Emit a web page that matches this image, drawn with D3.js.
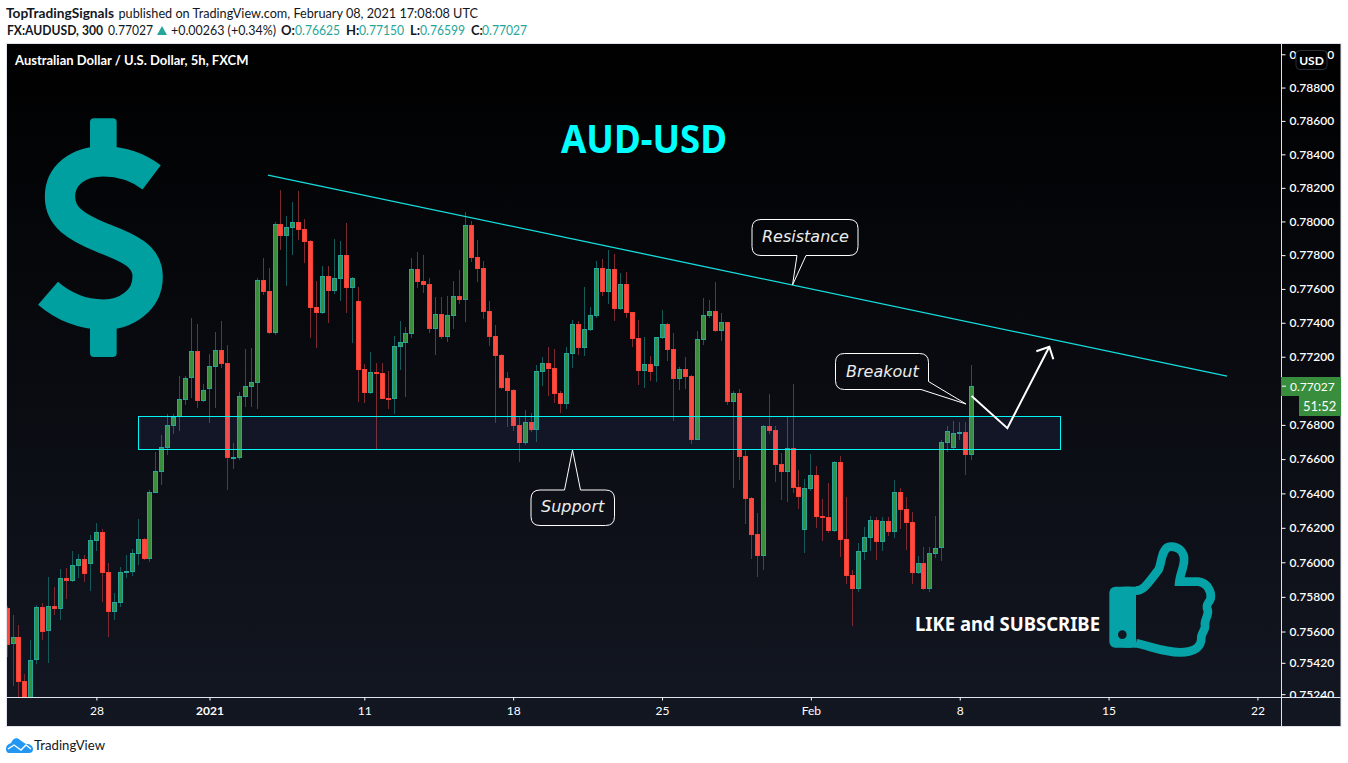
<!DOCTYPE html>
<html><head><meta charset="utf-8">
<script src="https://cdnjs.cloudflare.com/ajax/libs/d3/7.8.5/d3.min.js"></script>
<style>html,body{margin:0;padding:0;background:#fff;overflow:hidden}svg{display:block}</style>
</head><body><svg id="c" width="1348" height="763" style="font-family:Lato,'Noto Sans',sans-serif"></svg>
<script>
// Prices in points (1 point = 0.00001 USD), one entry per 5h bar
const opens=[75733,75527,75567,75315,75195,75435,75740,75601,75747,75731,75909,75893,75980,76019,75991,76125,76175,75943,75714,75766,75938,75945,76049,76134,76020,76404,76526,76666,76795,76844,76947,77072,77233,76941,77012,77141,77238,77163,76608,76608,76965,77024,77047,77651,77586,77341,77983,77915,77963,77995,77953,77884,77493,77459,77675,77589,77660,77799,77607,77527,77126,76988,77110,77104,76957,76953,77259,77283,77335,77716,77647,77629,77365,77450,77318,77441,77556,77536,77977,77787,77722,77467,77320,77208,77073,77002,76797,76695,76815,76771,77112,77161,77132,76985,76924,77218,77391,77253,77359,77441,77722,77583,77716,77483,77627,77462,77308,77118,77155,77147,77312,77391,77244,77071,77126,77085,76713,77301,77441,77468,77351,77402,76935,76985,76616,76373,76163,76038,76791,76768,76569,76526,76663,76435,76188,76427,76505,76268,76265,76181,76581,76133,75926,75847,76061,76142,76243,76116,76237,76177,76406,76307,76231,75939,75994,75847,76049,76081,76695,76666,76750,76756,76623];
const highs=[75747,75695,75638,75356,75551,75753,75763,75914,75859,75961,75968,76065,76047,76042,76158,76227,76192,75995,75822,75972,76042,76077,76251,76142,76419,76641,76740,76864,76864,77086,77086,77428,77392,77039,77218,77345,77410,77269,76692,76992,77245,77251,77664,77783,77724,77996,78187,78032,78116,78181,78014,77890,77647,77735,77735,77896,77884,77992,77670,77611,77157,77228,77163,77163,77116,77322,77410,77375,77782,77818,77800,77665,77552,77552,77558,77647,77710,78056,78002,77890,77765,77528,77387,77216,77110,77010,76846,76887,76869,77151,77198,77257,77245,76998,77257,77416,77410,77611,77493,77765,77777,77830,77807,77694,77700,77463,77416,77316,77204,77316,77475,77398,77339,77139,77198,77093,77351,77546,77534,77641,77457,77404,76998,77010,76654,76379,76286,76799,76981,76793,76635,76846,77039,76536,76483,76629,76559,76367,76460,76588,76617,76379,75955,76111,76204,76268,76262,76262,76262,76478,76431,76379,76291,76036,76088,76088,76268,76711,76793,76823,76817,76817,77151];
const lows=[75456,75289,75210,75175,75175,75414,75551,75421,75695,75666,75787,75885,75909,75885,75834,76065,75770,75568,75666,75741,75909,75921,75984,76013,76001,76402,76448,76623,76746,76764,76916,76957,76899,76934,76812,76899,77134,76418,76542,76594,76904,76904,76893,77566,77334,77329,77830,77617,77801,77890,77753,77311,77253,77453,77398,77570,77528,77457,77281,76934,76928,76981,76654,76950,76893,76864,77122,76965,77311,77605,77576,77339,77210,77304,77287,77363,77511,77404,77759,77641,77422,77263,76811,77010,76787,76764,76583,76681,76758,76699,77027,76969,76928,76869,76893,77134,77210,77204,77351,77428,77558,77511,77410,77475,77430,77257,77033,77017,77056,77051,77304,77172,76822,77004,77010,76688,76711,77269,77428,77345,77292,76916,76431,76478,76221,76018,75914,75955,76746,76466,76361,76349,76402,76309,76053,76413,76198,76123,76170,76175,76030,75874,75632,75826,76013,76065,76013,76065,76152,76140,76192,76070,75874,75932,75838,75826,76024,76007,76641,76653,76711,76506,76594];
const closes=[75523,75567,75312,75195,75435,75740,75599,75745,75730,75907,75891,75982,76017,75932,76127,76173,75938,75712,75768,75942,75949,76052,76133,76018,76406,76528,76668,76797,76844,76950,77072,77233,76941,77002,77144,77238,77159,76608,76611,76967,77026,77050,77651,77583,77341,77983,77915,77965,77995,77949,77880,77487,77459,77675,77589,77663,77799,77607,77663,77124,76988,77108,77100,76953,76951,77261,77285,77338,77716,77643,77623,77363,77450,77316,77444,77556,77534,77977,77785,77719,77465,77318,77206,77018,77000,76793,76695,76815,76771,77114,77161,77128,76982,76922,77220,77391,77251,77361,77445,77722,77583,77716,77483,77627,77459,77306,77118,77155,77112,77314,77391,77241,77071,77126,77081,76711,77304,77445,77468,77349,77402,76935,76985,76612,76369,76159,76038,76791,76764,76567,76526,76663,76433,76380,76429,76505,76264,76258,76181,76581,76130,75922,75847,76063,76144,76243,76116,76237,76177,76406,76305,76229,75939,75994,75847,76052,76081,76698,76762,76750,76756,76623,77026];

const priceTicks=[0.79,0.788,0.786,0.784,0.782,0.78,0.778,0.776,0.774,0.772,0.768,0.766,0.764,0.762,0.76,0.758,0.756,0.7542,0.7524];
const timeTickBars=[15,34,60,85,110,135,160,185,210];
const timeTickLabels=["28","2021","11","18","25","Feb","8","15","22"];
const lastBarIndex=162, lastPrice=0.77027;
const resistanceBars=[43.82,204.9], resistancePrices=[0.78276,0.77086];
const zoneBars=[22.07,176.84], zonePrices=[0.76852,0.76657];
const arrowBars=[162,168,175.05], arrowPrices=[0.76969,0.76781,0.77259];

const svg=d3.select("#c");
const paneL=7,paneR=1340.5,paneT=44,paneB=726,axisX=1281,axisY=697;
const x=d3.scaleLinear().domain([0,lastBarIndex]).range([7.08,971.63]);
const y=d3.scaleLog().domain([0.75222,0.79062]).range([697.3,44]);

const defs=svg.append("defs");
const g=defs.append("linearGradient").attr("id","bg").attr("x1",0).attr("x2",0).attr("y1",0).attr("y2",1);
g.append("stop").attr("offset",0).attr("stop-color","#000000");
g.append("stop").attr("offset",1).attr("stop-color","#131722");
defs.append("clipPath").attr("id","plot").append("rect").attr("x",paneL).attr("y",paneT).attr("width",axisX-paneL).attr("height",axisY-paneT);
defs.append("clipPath").attr("id","axis").append("rect").attr("x",axisX).attr("y",paneT).attr("width",paneR-axisX).attr("height",axisY-paneT);

// header
function t(x0,y0,s,o={}){const n=svg.append("text").attr("x",x0).attr("y",y0).text(s)
  .attr("font-size",o.size||13).attr("font-weight",o.w||400).attr("fill",o.c||"#131722")
  .attr("text-anchor",o.a||"start").attr("font-style",o.i?"italic":"normal");
  if(o.f)n.style("font-family",o.f);
  if(o.len)n.attr("textLength",o.len).attr("lengthAdjust","spacingAndGlyphs");
  return n;}
t(6,18,"TopTradingSignals",{w:700,size:13,len:108});
t(118.5,18,"published on TradingView.com, February 08, 2021 17:08:08 UTC",{len:359.5});
t(7,35,"FX:AUDUSD, 300",{w:700,len:96});
t(108,35,"0.77027",{len:45});
svg.append("path").attr("d","M157 35L162 26L167 35Z").attr("fill","#26a69a");
t(171,35,"+0.00263 (+0.34%)",{len:105});
const teal="#26a69a";
[["O:",281,"0.76625",295],["H:",346,"0.77150",359],["L:",410,"0.76599",420],["C:",471,"0.77027",482]].forEach(d=>{
  t(d[1],35,d[0],{w:700});t(d[3],35,d[2],{c:teal,len:45});
});

// pane
svg.append("rect").attr("x",paneL-.5).attr("y",paneT-.5).attr("width",paneR-paneL+1).attr("height",paneB-paneT+1)
  .attr("fill","url(#bg)").attr("stroke","#e0e3eb");

// candles
const plot=svg.append("g").attr("clip-path","url(#plot)");
const data=opens.map((o,i)=>({i,o:o/1e5,h:highs[i]/1e5,l:lows[i]/1e5,c:closes[i]/1e5}));
const col=d=>Math.floor(x(d.i));
plot.selectAll("rect.w").data(data).join("rect").attr("class","w")
  .attr("x",col).attr("width",1)
  .attr("y",d=>Math.round(y(d.h))).attr("height",d=>Math.max(1,Math.round(y(d.l))-Math.round(y(d.h))))
  .attr("fill",d=>d.c>=d.o?"#155a5a":"#7a2a30");
plot.selectAll("rect.b").data(data).join("rect").attr("class","b")
  .attr("x",d=>col(d)-1.5).attr("width",4)
  .attr("y",d=>Math.round(y(Math.max(d.o,d.c)))+.5)
  .attr("height",d=>Math.max(1,Math.round(y(Math.min(d.o,d.c)))-Math.round(y(Math.max(d.o,d.c)))-1))
  .attr("fill",d=>d.c>=d.o?"#388e3c":"#ff4a3f")
  .attr("stroke",d=>d.c>=d.o?"#26a69a":"#f44336").attr("stroke-width",1);

// support zone and resistance line
svg.append("rect").attr("x",Math.round(x(zoneBars[0]))+.5).attr("y",Math.round(y(zonePrices[0]))+.5)
  .attr("width",Math.round(x(zoneBars[1]))-Math.round(x(zoneBars[0])))
  .attr("height",Math.round(y(zonePrices[1]))-Math.round(y(zonePrices[0])))
  .attr("fill","rgba(90,120,230,.09)").attr("stroke","#00f5f5").attr("stroke-width",1);
svg.append("line").attr("x1",x(resistanceBars[0])).attr("y1",y(resistancePrices[0]))
  .attr("x2",x(resistanceBars[1])).attr("y2",y(resistancePrices[1])).attr("stroke","#14dede").attr("stroke-width",1.3);

// arrow
const ap=arrowBars.map((b,i)=>[x(b),y(arrowPrices[i])]);
svg.append("path").attr("d",d3.line()(ap)).attr("fill","none").attr("stroke","#fff").attr("stroke-width",2);
const tip=ap[2];
svg.append("path").attr("d",d3.line()([[tip[0]-13,tip[1]+4.5],tip,[tip[0]+4,tip[1]+12.5]])).attr("fill","none").attr("stroke","#fff").attr("stroke-width",2);

// callouts
function rr(x0,y0,x1,y1,r,tail){
  const p=d3.path();
  p.moveTo(x0+r,y0);
  if(tail.side==="t"){p.lineTo(tail.a,y0);p.lineTo(tail.tx,tail.ty);p.lineTo(tail.b,y0);}
  p.lineTo(x1-r,y0);p.quadraticCurveTo(x1,y0,x1,y0+r);
  if(tail.side==="br"){p.lineTo(x1,tail.b);p.lineTo(tail.tx,tail.ty);p.lineTo(tail.a,y1);}
  else{
    p.lineTo(x1,y1-r);p.quadraticCurveTo(x1,y1,x1-r,y1);
    if(tail.side==="b"){p.lineTo(tail.b,y1);p.lineTo(tail.tx,tail.ty);p.lineTo(tail.a,y1);}
  }
  p.lineTo(x0+r,y1);p.quadraticCurveTo(x0,y1,x0,y1-r);p.lineTo(x0,y0+r);p.quadraticCurveTo(x0,y0,x0+r,y0);p.closePath();
  svg.append("path").attr("d",p.toString()).attr("fill","none").attr("stroke","#fff").attr("stroke-width",1);
}
rr(752,219.5,858,255.5,9,{side:"b",a:797,b:806,tx:792.5,ty:285});
rr(531,490,614.5,525.5,9,{side:"t",a:564.5,b:580.5,tx:572.5,ty:450});
rr(835.5,353.5,928.5,389.5,9,{side:"br",a:921,b:381.5,tx:966,ty:404});
const ob={f:"'DejaVu Sans'",i:1,size:16,c:"#ececec"};
t(762,242,"Resistance",ob);t(541,512,"Support",ob);t(846,377,"Breakout",ob);

// labels
t(15,65,"Australian Dollar / U.S. Dollar, 5h, FXCM",{c:"#fff",size:13,w:700});
t(561,153,"AUD-USD",{c:"#00ffff",size:40,w:700,f:"'Noto Sans'",len:166});
t(915,631,"LIKE and SUBSCRIBE",{c:"#fff",size:19,w:700,f:"'Noto Sans'",len:185});

// dollar icon
const dg=svg.append("g").attr("transform","translate(20,100) scale(.3333)").attr("fill","none");
dg.append("rect").attr("x",210).attr("y",55).attr("width",80).attr("height",110).attr("rx",12).attr("fill","#009fa0");
dg.append("rect").attr("x",210).attr("y",660).attr("width",80).attr("height",111).attr("rx",12).attr("fill","#009fa0");
dg.append("path").attr("d","M395 232C350 198 300 184 250 184C175 184 120 225 120 290C120 350 165 380 250 415C330 445 383 470 383 530C383 600 320 644 250 644C190 644 130 620 84 580")
  .attr("stroke","#009fa0").attr("stroke-width",91);

// thumb icon
const tg=svg.append("g").attr("transform","translate(1080,530) scale(.3333)");
tg.append("rect").attr("x",88).attr("y",170).attr("width",80).attr("height",183).attr("rx",18).attr("fill","#05a3a8");
tg.append("rect").attr("x",130).attr("y",170).attr("width",38).attr("height",183).attr("fill","#05a3a8");
tg.append("circle").attr("cx",127).attr("cy",314).attr("r",13).attr("fill","#131722");
tg.append("path").attr("d","M168 182C190 182 200 165 235 120C245 105 243 50 272 50C300 50 315 70 312 95C310 115 300 135 298 155L355 155C385 158 395 190 392 205C388 220 375 222 383 240C388 255 372 270 375 285C378 300 362 310 364 325C364 350 345 367 300 367C250 367 210 348 168 340")
  .attr("fill","none").attr("stroke","#05a3a8").attr("stroke-width",26);

// price axis
svg.append("line").attr("x1",axisX+.5).attr("x2",axisX+.5).attr("y1",paneT).attr("y2",paneB).attr("stroke","#e0e3eb");
const ya=svg.append("g").attr("clip-path","url(#axis)").append("g").attr("transform",`translate(${axisX+.5},0)`)
  .call(d3.axisRight(y).tickValues(priceTicks).tickFormat(d3.format(".5f")).tickSize(4).tickPadding(4));
ya.select(".domain").remove();
ya.selectAll("line").attr("stroke","#fff");
ya.selectAll("text").attr("fill","#fff").attr("font-size",12).style("font-family","Lato").attr("font-weight",600);

// time axis
svg.append("line").attr("x1",paneL).attr("x2",paneR).attr("y1",axisY+.5).attr("y2",axisY+.5).attr("stroke","#e0e3eb");
const xa=svg.append("g").attr("transform",`translate(0,${axisY+.5})`)
  .call(d3.axisBottom(x).tickValues(timeTickBars).tickFormat((d,i)=>timeTickLabels[i]).tickSize(3).tickPadding(6));
xa.select(".domain").remove();
xa.selectAll("line").attr("stroke","#fff");
xa.selectAll("text").attr("fill","#fff").attr("font-size",12).style("font-family","Lato").attr("font-weight",d=>d===34?700:400);

// USD tag, last price, countdown
svg.append("rect").attr("x",1296).attr("y",50.5).attr("width",31).attr("height",19).attr("rx",4).attr("fill","#000").attr("stroke","#2a2e39");
t(1311.5,65,"USD",{c:"#fff",size:12,w:700,a:"middle"});
const py=y(lastPrice);
svg.append("rect").attr("x",axisX).attr("y",377).attr("width",60).attr("height",19).attr("fill","#388e3c");
svg.append("rect").attr("x",1299).attr("y",396).attr("width",42).attr("height",20).attr("fill","#388e3c");
svg.append("line").attr("x1",axisX+1).attr("x2",axisX+5).attr("y1",py).attr("y2",py).attr("stroke","#fff");
t(1290,391,d3.format(".5f")(lastPrice),{c:"#fff",size:12});
t(1303,411,"51:52",{c:"#fff",size:13});

// footer logo
svg.append("path").attr("d","M6 749C6 745 9 744 11 743C13 738 17 737 20 740C23 742 25 744 27 744C30 744 33 746 33 749C33 752 31 753 29 753L9 753C7 753 6 751 6 749Z").attr("fill","#2196f3");
svg.append("path").attr("d","M8 749L14 745L21 750L26 745L31 749").attr("fill","none").attr("stroke","#fff").attr("stroke-width",1.4);
t(34,750,"TradingView",{size:14,c:"#131722",len:71});
</script></body></html>
